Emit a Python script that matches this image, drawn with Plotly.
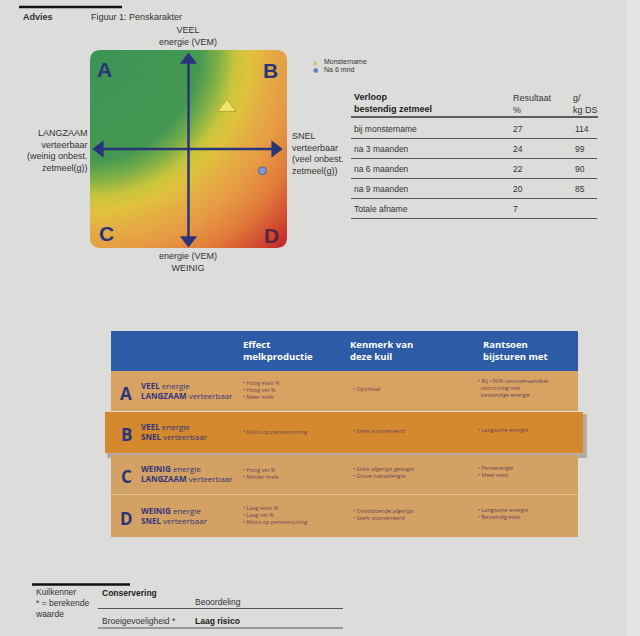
import numpy as np
import plotly.graph_objects as go

W, H = 640, 636
FONT = "Liberation Sans, Arial, sans-serif"
TFONT = "Open Sans, DejaVu Sans, sans-serif"
NAVY = "#2a3579"
PAPER = "#dcdcda"

# ---------------- data ----------------
point_names = ["Monstername", "Na 6 mnd"]
point_x = [0.39, 0.75]     # verteerbaarheid: -1 langzaam .. +1 snel
point_y = [0.42, -0.22]    # energie: -1 weinig .. +1 veel
point_colors = ["#eee56a", "#8597cc"]

verloop_labels = ["bij monstername", "na 3 maanden", "na 6 maanden", "na 9 maanden", "Totale afname"]
verloop_pct = ["27", "24", "22", "20", "7"]
verloop_gkg = ["114", "99", "90", "85", ""]

quad_letters = ["A", "B", "C", "D"]
quad_energy = ["VEEL", "VEEL", "WEINIG", "WEINIG"]
quad_speed = ["LANGZAAM", "SNEL", "LANGZAAM", "SNEL"]
quad_effect = [["Hoog eiwit %", "Hoog vet %", "Meer melk"],
               ["Risico op pensverzuring"],
               ["Hoog vet %", "Minder melk"],
               ["Laag eiwit %", "Laag vet %", "Risico op pensverzuring"]]
quad_kenmerk = [["Optimaal"],
                ["Sterk voorverteerd"],
                ["Sterk afgerijpt geoogst", "Grove haksellengte"],
                ["Onvoldoende afgerijpt", "Sterk voorverteerd"]]
quad_rantsoen = [["Bij >50% rantsoenaandeel|voorzichtig met|bestendige energie"],
                 ["Langzame energie"],
                 ["Pensenergie", "Meer eiwit"],
                 ["Langzame energie", "Bestendig eiwit"]]
col_headers = ["Effect<br>melkproductie", "Kenmerk van<br>deze kuil", "Rantsoen<br>bijsturen met"]

# ---------------- layout geometry (pixels) ----------------
SQ = dict(x0=90, x1=287, y0=50, y1=248)

fig = go.Figure()

# background gradient of the quadrant (decorative, distance from corner A)
g = np.linspace(-1, 1, 61)
GX, GY = np.meshgrid(g, g)
Z = np.sqrt((GX + 1) ** 2 + (GY - 1) ** 2)
cs = [[0.0, "#3c9356"], [0.39, "#449852"], [0.46, "#7fb046"], [0.52, "#c8c43d"],
      [0.57, "#dfc33d"], [0.64, "#e4ad43"], [0.72, "#e69a44"], [0.82, "#e27b3a"],
      [0.92, "#d04a30"], [1.0, "#bf1f28"]]
fig.add_trace(go.Heatmap(x=g, y=g, z=Z, zmin=0, zmax=2 * np.sqrt(2), colorscale=cs,
                         zsmooth="best", showscale=False, hoverinfo="skip",
                         xaxis="x2", yaxis="y2"))

# axis arrows
fig.add_trace(go.Scatter(x=[-0.93, 0.9], y=[0, 0], mode="lines", line=dict(color=NAVY, width=2.5),
                         xaxis="x2", yaxis="y2", showlegend=False, hoverinfo="skip"))
fig.add_trace(go.Scatter(x=[0, 0], y=[0.92, -0.95], mode="lines", line=dict(color=NAVY, width=2.5),
                         xaxis="x2", yaxis="y2", showlegend=False, hoverinfo="skip"))
fig.add_trace(go.Scatter(x=[-0.9, 0.88, 0, 0], y=[0, 0, 0.9, -0.92], mode="markers",
                         marker=dict(symbol=["triangle-left", "triangle-right", "triangle-up", "triangle-down"],
                                     size=15, color=NAVY),
                         xaxis="x2", yaxis="y2", showlegend=False, hoverinfo="skip"))

# the two measured points
fig.add_trace(go.Scatter(x=[point_x[0]], y=[point_y[0]], mode="markers", name=point_names[0],
                         marker=dict(symbol="triangle-up", size=16, color=point_colors[0],
                                     line=dict(color="#b5a43a", width=1)),
                         xaxis="x2", yaxis="y2", showlegend=False))
fig.add_trace(go.Scatter(x=[point_x[1]], y=[point_y[1]], mode="markers", name=point_names[1],
                         marker=dict(symbol="circle", size=8, color=point_colors[1],
                                     line=dict(color="#55639c", width=1)),
                         xaxis="x2", yaxis="y2", showlegend=False))

shapes = []
ann = []


def rect(x0, y0, x1, y1, fill, layer="below", line=None):
    shapes.append(dict(type="rect", xref="x", yref="y", x0=x0, y0=y0, x1=x1, y1=y1,
                       fillcolor=fill, line=dict(width=0) if line is None else line, layer=layer))


def hline(x0, x1, y, color="#4a4a4a", width=1):
    shapes.append(dict(type="line", xref="x", yref="y", x0=x0, x1=x1, y0=y, y1=y,
                       line=dict(color=color, width=width), layer="below"))


def text(x, y, t, size=9, color="#333333", xanchor="left", yanchor="middle", family=FONT, align="left"):
    ann.append(dict(x=x, y=y, xref="x", yref="y", text=t, showarrow=False, xanchor=xanchor,
                    yanchor=yanchor, align=align, font=dict(size=size, color=color, family=family)))


# page right edge
rect(626, 0, 640, 636, "#e4e4e2")

# rounded-corner masks for the quadrant
r = 11
corners = [(SQ["x0"], SQ["y0"], 1, 1), (SQ["x1"], SQ["y0"], -1, 1),
           (SQ["x0"], SQ["y1"], 1, -1), (SQ["x1"], SQ["y1"], -1, -1)]
for cx, cy, sx, sy in corners:
    p = (f"M {cx-sx},{cy-sy} L {cx+sx*r},{cy-sy} L {cx+sx*r},{cy} "
         f"Q {cx},{cy} {cx},{cy+sy*r} L {cx-sx},{cy+sy*r} Z")
    shapes.append(dict(type="path", xref="x", yref="y", path=p, fillcolor=PAPER,
                       line=dict(width=0), layer="above"))

# header
hline(19, 122, 7, color="#111111", width=2.5)
text(21, 17, "<b>Advies</b>", size=9, color="#333")
text(89, 17, "Figuur 1: Penskarakter", size=9, color="#333")

# quadrant letters
for L, x, y in zip(quad_letters, [104, 270, 106, 271], [69, 70, 233, 235]):
    text(x, y, f"<b>{L}</b>", size=21, color=NAVY if L != "D" else "#5a2440", xanchor="center", family=FONT)

# legend (custom, compact)
text(315, 61.5, "▲", size=6, color="#d8c850", xanchor="center", family="DejaVu Sans")
text(315, 69, "●", size=6, color="#6a7cc0", xanchor="center", family="DejaVu Sans")
text(322, 61.5, point_names[0], size=7, color="#333")
text(322, 69, point_names[1], size=7, color="#333")

# axis captions
text(188, 36, "VEEL<br>energie (VEM)", size=9, xanchor="center", align="center")
text(188, 262, "energie (VEM)<br>WEINIG", size=9, xanchor="center", align="center")
text(90, 150, "LANGZAAM<br>verteerbaar<br>(weinig onbest.<br>zetmeel(g))", size=9, xanchor="right", align="right")
text(290, 153, "SNEL<br>verteerbaar<br>(veel onbest.<br>zetmeel(g))", size=9, xanchor="left", align="left")

# right table
text(352, 103, "<b>Verloop<br>bestendig zetmeel</b>", size=9, color="#222")
text(511, 104, "Resultaat<br>%", size=9)
text(571, 104, "g/<br>kg DS", size=9)
hline(351, 598, 117, color="#333", width=1.3)
for i, (lab, p, gk) in enumerate(zip(verloop_labels, verloop_pct, verloop_gkg)):
    yc = 128.5 + i * 20
    text(352, yc, lab, size=8.5)
    text(511, yc, p, size=8.5)
    text(573, yc, gk, size=8.5)
    hline(351, 597, yc + 10, color="#555", width=1)

# colour table
TX0, TX1 = 111, 578
rect(TX0, 331, TX1, 371, "#2d5ba6")
for hx, h in zip([241, 348, 481], col_headers):
    text(hx, 350, f"<b>{h}</b>", size=9.5, color="#ffffff", family=TFONT)

row_top = [371, 412, 455, 495]
row_bot = [411, 453, 494, 537]
row_fill = ["#d8a263", "#d4892f", "#d3a163", "#d3a164"]
# shadow of highlighted row
rect(107, 414, 587, 458, "rgba(90,60,30,0.30)")
for i in range(4):
    x0, x1 = (TX0, TX1) if i != 1 else (105, 583)
    rect(x0, row_top[i], x1, row_bot[i], row_fill[i])
hline(TX0, TX1, 494.5, color="#e2c08c", width=1)

for i in range(4):
    yc = (row_top[i] + row_bot[i]) / 2
    text(126, yc + 2, f"<b>{quad_letters[i]}</b>", size=17, color=NAVY, xanchor="center", family=TFONT)
    text(139, yc - 1,
         f"<b>{quad_energy[i]}</b> energie<br><b>{quad_speed[i]}</b> verteerbaar",
         size=8, color="#33357a", family=TFONT)
    bcol = "#6b4558"
    text(241, yc - 1, "<br>".join("• " + s for s in quad_effect[i]), size=5.5, color=bcol, family=TFONT)
    text(351, yc - 2, "<br>".join("• " + s for s in quad_kenmerk[i]), size=5.5, color=bcol, family=TFONT)
    lines = []
    for s in quad_rantsoen[i]:
        parts = s.split("|")
        lines.append("• " + parts[0])
        lines += ["&nbsp;&nbsp;" + q for q in parts[1:]]
    text(476, yc - 3, "<br>".join(lines), size=5.5, color=bcol, family=TFONT)

# bottom section
hline(32, 130, 584.5, color="#111111", width=2.5)
text(33, 603, "Kuilkenner<br>* = berekende<br>waarde", size=8.5)
text(100, 593, "<b>Conservering</b>", size=8.5, color="#222")
text(193, 602, "Beoordeling", size=8.5)
hline(98, 343, 608.5, color="#555", width=1)
text(100, 621, "Broeigevoeligheid *", size=8.5)
text(193, 621, "<b>Laag risico</b>", size=8.5, color="#222")
hline(98, 343, 628, color="#555", width=1)

fig.update_layout(
    width=W, height=H, margin=dict(l=0, r=0, t=0, b=0),
    paper_bgcolor=PAPER, plot_bgcolor="rgba(0,0,0,0)",
    xaxis=dict(range=[0, W], domain=[0, 1], visible=False, fixedrange=True),
    yaxis=dict(range=[H, 0], domain=[0, 1], visible=False, fixedrange=True),
    xaxis2=dict(range=[-1, 1], domain=[SQ["x0"] / W, SQ["x1"] / W], visible=False, anchor="y2"),
    yaxis2=dict(range=[-1, 1], domain=[1 - SQ["y1"] / H, 1 - SQ["y0"] / H], visible=False, anchor="x2"),
    shapes=shapes, annotations=ann,
    showlegend=False,
)

fig.write_html("out.html", config={"displayModeBar": False},
               post_script="document.body.style.margin='0';document.body.style.overflow='hidden';")
